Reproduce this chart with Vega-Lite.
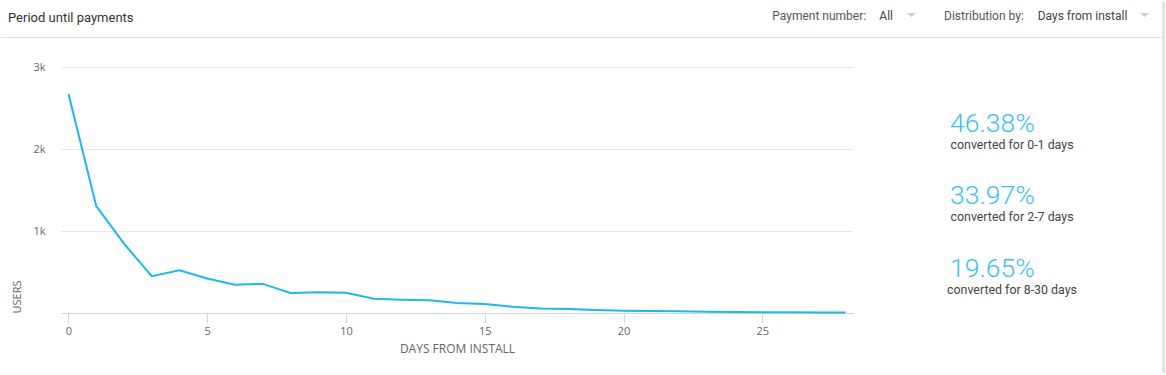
{
  "$schema": "https://vega.github.io/schema/vega-lite/v6.json",
  "width": 792,
  "height": 246,
  "padding": 0,
  "autosize": {"type": "pad"},
  "background": "white",
  "config": {"view": {"stroke": null}, "font": "Roboto"},
  "layer": [
    {
      "data": {"values": [
        {"day": 0, "users": 2672}, {"day": 1, "users": 1305}, {"day": 2, "users": 845},
        {"day": 3, "users": 448}, {"day": 4, "users": 522}, {"day": 5, "users": 420},
        {"day": 6, "users": 346}, {"day": 7, "users": 355}, {"day": 8, "users": 245},
        {"day": 9, "users": 252}, {"day": 10, "users": 248}, {"day": 11, "users": 175},
        {"day": 12, "users": 163}, {"day": 13, "users": 154}, {"day": 14, "users": 122},
        {"day": 15, "users": 110}, {"day": 16, "users": 77}, {"day": 17, "users": 56},
        {"day": 18, "users": 49}, {"day": 19, "users": 37}, {"day": 20, "users": 28},
        {"day": 21, "users": 24}, {"day": 22, "users": 20}, {"day": 23, "users": 16},
        {"day": 24, "users": 12}, {"day": 25, "users": 10}, {"day": 26, "users": 8},
        {"day": 27, "users": 6}, {"day": 28, "users": 5}
      ]},
      "mark": {"type": "line", "color": "#1cb8ef", "strokeWidth": 2, "interpolate": "linear"},
      "encoding": {
        "x": {
          "field": "day", "type": "quantitative",
          "scale": {"domain": [-0.27, 28.27], "nice": false, "zero": false},
          "axis": {
            "title": "DAYS FROM INSTALL",
            "values": [0, 5, 10, 15, 20, 25],
            "grid": false,
            "domainColor": "#ccd6eb",
            "tickColor": "#ccd6eb",
            "tickSize": 10,
            "labelFont": "Open Sans",
            "labelFontSize": 11,
            "labelColor": "#666666",
            "labelPadding": 2,
            "titleFont": "Open Sans",
            "titleFontSize": 12,
            "titleFontWeight": "normal",
            "titleColor": "#666666",
            "titlePadding": 7
          }
        },
        "y": {
          "field": "users", "type": "quantitative",
          "scale": {"domain": [0, 3000], "nice": false},
          "axis": {
            "title": "USERS",
            "values": [0, 1000, 2000, 3000],
            "labelExpr": "datum.value === 0 ? '' : (datum.value / 1000) + 'k'",
            "domain": false,
            "ticks": false,
            "gridColor": "#e6e6e6",
            "labelFont": "Open Sans",
            "labelFontSize": 11,
            "labelColor": "#666666",
            "labelPadding": 16,
            "titleFont": "Open Sans",
            "titleFontSize": 11,
            "titleFontWeight": "normal",
            "titleColor": "#666666",
            "titleAnchor": "start",
            "titlePadding": 10
          }
        }
      }
    },
    {
      "data": {"values": [
        {"order": 1, "share": "46.38%", "label": "converted for 0-1 days"},
        {"order": 2, "share": "33.97%", "label": "converted for 2-7 days"},
        {"order": 3, "share": "19.65%", "label": "converted for 8-30 days"}
      ]},
      "layer": [
        {
          "mark": {"type": "text", "align": "left", "baseline": "alphabetic", "font": "Roboto", "fontWeight": 300, "fontSize": 26.5, "color": "#3cbff5"},
          "encoding": {
            "x": {"value": 889},
            "y": {"field": "order", "type": "ordinal", "scale": {"type": "point", "range": [64.7, 209.7], "padding": 0}, "axis": null},
            "text": {"field": "share"}
          }
        },
        {
          "mark": {"type": "text", "align": "center", "baseline": "alphabetic", "font": "Roboto", "fontSize": 12.4, "color": "#444444", "dy": 16.8},
          "encoding": {
            "x": {"value": 951},
            "y": {"field": "order", "type": "ordinal", "scale": {"type": "point", "range": [64.7, 209.7], "padding": 0}, "axis": null},
            "text": {"field": "label"}
          }
        }
      ]
    },
    {
      "data": {"values": [{}]},
      "mark": {"type": "rule", "color": "#e2e2e2", "strokeWidth": 1},
      "encoding": {"x": {"value": -60.5}, "x2": {"value": 1101}, "y": {"value": -29.5}, "y2": {"value": -29.5}}
    },
    {
      "data": {"values": [{}]},
      "mark": {"type": "rule", "color": "#e3e3e3", "strokeWidth": 3},
      "encoding": {"x": {"value": 1102.5}, "x2": {"value": 1102.5}, "y": {"value": -65.5}, "y2": {"value": 306}}
    },
    {
      "data": {"values": [{}]},
      "mark": {"type": "text", "align": "left", "baseline": "alphabetic", "font": "Roboto", "fontSize": 13, "color": "#333333"},
      "encoding": {"x": {"value": -53}, "y": {"value": -45.3}, "text": {"value": "Period until payments"}}
    },
    {
      "data": {"values": [{}]},
      "mark": {"type": "text", "align": "left", "baseline": "alphabetic", "font": "Roboto", "fontSize": 12, "color": "#555555"},
      "encoding": {"x": {"value": 711.3}, "y": {"value": -47}, "text": {"value": "Payment number:"}}
    },
    {
      "data": {"values": [{}]},
      "mark": {"type": "text", "align": "left", "baseline": "alphabetic", "font": "Roboto", "fontSize": 12, "color": "#444444"},
      "encoding": {"x": {"value": 818.3}, "y": {"value": -47}, "text": {"value": "All"}}
    },
    {
      "data": {"values": [{}]},
      "mark": {"type": "text", "align": "left", "baseline": "alphabetic", "font": "Roboto", "fontSize": 12, "color": "#555555"},
      "encoding": {"x": {"value": 883}, "y": {"value": -47}, "text": {"value": "Distribution by:"}}
    },
    {
      "data": {"values": [{}]},
      "mark": {"type": "text", "align": "left", "baseline": "alphabetic", "font": "Roboto", "fontSize": 12, "color": "#444444"},
      "encoding": {"x": {"value": 976.7}, "y": {"value": -47}, "text": {"value": "Days from install"}}
    },
    {
      "data": {"values": [{}]},
      "mark": {"type": "point", "shape": "M-1,-0.45L1,-0.45L0,0.45Z", "size": 81, "filled": true, "color": "#cccccc", "opacity": 1},
      "encoding": {"x": {"value": 850.3}, "y": {"value": -52}}
    },
    {
      "data": {"values": [{}]},
      "mark": {"type": "point", "shape": "M-1,-0.45L1,-0.45L0,0.45Z", "size": 81, "filled": true, "color": "#cccccc", "opacity": 1},
      "encoding": {"x": {"value": 1083.7}, "y": {"value": -52}}
    }
  ],
  "resolve": {"scale": {"y": "independent"}}
}
